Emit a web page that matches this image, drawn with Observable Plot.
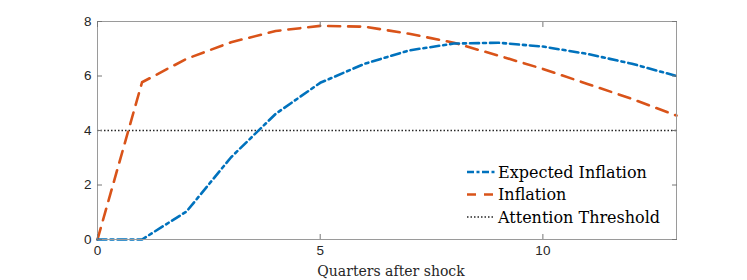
<!DOCTYPE html>
<html>
<head>
<meta charset="utf-8">
<script src="https://cdn.jsdelivr.net/npm/d3@7"></script>
<script src="https://cdn.jsdelivr.net/npm/@observablehq/plot@0.6"></script>
<style>
  html, body { margin: 0; padding: 0; background: #fff; }
  #wrap { position: relative; width: 747px; height: 280px; }
  #legend { position: absolute; left: 467px; top: 160px; }
</style>
</head>
<body>
<div id="wrap"></div>
<script>
const quarters = [0, 1, 2, 3, 4, 5, 6, 7, 8, 9, 10, 11, 12, 13];
const expectedInflation = [0, 0, 1.03, 3.02, 4.61, 5.75, 6.45, 6.94, 7.19, 7.22, 7.08, 6.81, 6.45, 6.0];
const inflation = [0, 5.77, 6.63, 7.24, 7.65, 7.84, 7.81, 7.55, 7.22, 6.75, 6.26, 5.71, 5.16, 4.55];
const threshold = 4;
const xTicks = [0, 5, 10];
const yTicks = [0, 2, 4, 6, 8];
const seriesNames = ["Expected Inflation", "Inflation", "Attention Threshold"];
const colors = ["#0072BD", "#D95319", "#262626"];
const dashes = ["9,4,3,4", "12,8", "1.5,2"];
const xLabel = "Quarters after shock";

const expData = quarters.map((q, i) => ({q, v: expectedInflation[i]}));
const infData = quarters.map((q, i) => ({q, v: inflation[i]}));

const serif = "'DejaVu Serif', serif";
const axisFont = {fontFamily: "Liberation Sans, Arial, sans-serif", fontSize: 13.5, fill: "#262626"};

const chart = Plot.plot({
  width: 747,
  height: 280,
  marginLeft: 97,
  marginRight: 71,
  marginTop: 21,
  marginBottom: 41,
  x: {domain: [0, 13]},
  y: {domain: [0, 8]},
  style: {background: "#fff", overflow: "visible"},
  marks: [
    Plot.ruleY([threshold], {stroke: colors[2], strokeWidth: 1.3, strokeDasharray: dashes[2]}),
    Plot.line(infData, {x: "q", y: "v", stroke: colors[1], strokeWidth: 2.6, strokeDasharray: dashes[1]}),
    Plot.line(expData, {x: "q", y: "v", stroke: colors[0], strokeWidth: 2.6, strokeDasharray: dashes[0]}),
    Plot.frame({stroke: "#9a9a9a", strokeWidth: 1}),
    Plot.axisX({anchor: "bottom", ticks: xTicks, tickSize: -5, tickPadding: 11, stroke: "#777", label: null, ...axisFont}),
    Plot.axisX({anchor: "top", ticks: xTicks, tickSize: -5, tickFormat: () => "", stroke: "#777", label: null}),
    Plot.axisY({anchor: "left", ticks: yTicks, tickSize: -5, tickPadding: 11, stroke: "#777", label: null, ...axisFont}),
    Plot.axisY({anchor: "right", ticks: yTicks, tickSize: -5, tickFormat: () => "", stroke: "#777", label: null}),
    Plot.text([xLabel], {frameAnchor: "bottom", dx: 4, dy: 36, text: d => d, fontFamily: serif, fontSize: 14, fill: "#262626"})
  ]
});

const wrap = document.getElementById("wrap");
wrap.appendChild(chart);

// legend overlay (SVG)
const lsvg = d3.create("svg").attr("id", "legend").attr("width", 220).attr("height", 72);
const rows = lsvg.selectAll("g").data(seriesNames).join("g")
  .attr("transform", (d, i) => `translate(0,${12 + i * 22.5})`);
rows.append("line")
  .attr("x1", 0).attr("x2", 28).attr("y1", 0).attr("y2", 0)
  .attr("stroke", (d, i) => colors[i])
  .attr("stroke-width", (d, i) => i === 2 ? 1.3 : 2.6)
  .attr("stroke-dasharray", (d, i) => i === 0 ? "7,2.5,3,2.5" : i === 1 ? "9,8" : dashes[2]);
rows.append("text")
  .attr("x", 31).attr("y", 0).attr("dy", "0.35em")
  .attr("font-family", serif).attr("font-size", 16).attr("fill", "#000")
  .text(d => d);
wrap.appendChild(lsvg.node());
</script>
</body>
</html>
